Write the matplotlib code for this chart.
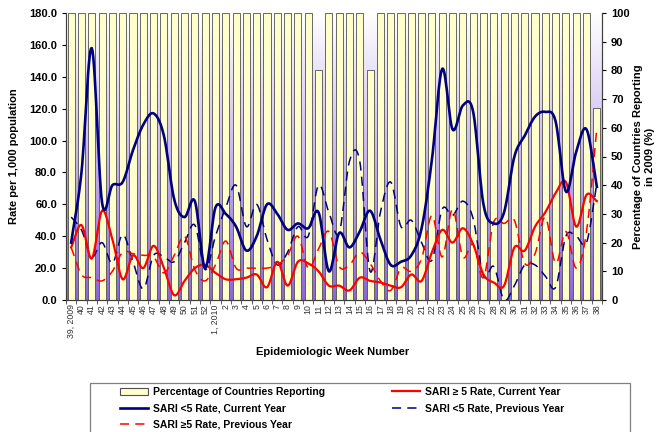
import numpy as np
import matplotlib
matplotlib.use("Agg")
import matplotlib.pyplot as plt
from matplotlib.patches import Rectangle
from matplotlib.lines import Line2D
from matplotlib.colors import LinearSegmentedColormap

plt.rcParams['font.family'] = ['Liberation Sans', 'DejaVu Sans']

# Data

weeks = ["39, 2009", "40", "41", "42", "43", "44", "45", "46", "47", "48", "49", "50", "51", "52",
         "1, 2010", "2", "3", "4", "5", "6", "7", "8", "9", "10", "11", "12", "13", "14", "15",
         "16", "17", "18", "19", "20", "21", "22", "23", "24", "25", "26", "27", "28", "29",
         "30", "31", "32", "33", "34", "35", "36", "37", "38"]

pct_reporting = [100, 100, 100, 100, 100, 100, 100, 100, 100, 100, 100, 100, 100, 100,
                 100, 100, 100, 100, 100, 100, 100, 100, 100, 100, 80, 100, 100, 100, 100,
                 80, 100, 100, 100, 100, 100, 100, 100, 100, 100, 100, 100, 100, 100,
                 100, 100, 100, 100, 100, 100, 100, 100, 67]

sari_u5_cur = [36, 80, 158, 61, 72, 74, 94, 110, 117, 103, 63, 52, 62, 20,
               58, 54, 46, 31, 40, 60, 54, 44, 48, 45, 55, 18, 42, 33, 43,
               56, 38, 22, 24, 28, 45, 88, 145, 107, 122, 118, 60, 48, 55,
               90, 103, 115, 118, 112, 68, 93, 107, 71]

sari_o5_cur = [33, 47, 26, 56, 38, 13, 28, 20, 34, 20, 3, 12, 20, 22,
               17, 13, 13, 14, 16, 8, 24, 9, 24, 23, 18, 9, 9, 6, 14,
               12, 11, 9, 8, 16, 12, 30, 44, 36, 45, 35, 16, 11, 9,
               33, 31, 46, 55, 67, 74, 46, 66, 62]

sari_u5_prev = [52, 44, 27, 36, 23, 41, 24, 7, 28, 27, 24, 36, 47, 19,
                40, 58, 72, 46, 60, 38, 22, 30, 46, 40, 72, 55, 42, 87, 87,
                18, 55, 74, 46, 50, 36, 25, 57, 53, 62, 51, 15, 21, 0,
                9, 22, 22, 15, 8, 40, 40, 36, 73]

sari_o5_prev = [33, 16, 14, 12, 18, 30, 29, 28, 27, 17, 28, 40, 19, 12,
                22, 37, 20, 20, 20, 20, 22, 28, 40, 20, 32, 43, 21, 22, 30,
                23, 12, 6, 20, 18, 26, 53, 27, 57, 27, 35, 14, 49, 48,
                50, 23, 29, 52, 23, 43, 20, 43, 108]


def smooth(xs, ys, n=14):
    # Catmull-Rom curve through the points (like Excel's smoothed lines)
    x = np.asarray(xs, float)
    y = np.asarray(ys, float)
    out = []
    for v in (x, y):
        p = np.concatenate([[2*v[0]-v[1]], v, [2*v[-1]-v[-2]]])
        t = np.linspace(0, 1, n, endpoint=False)[:, None]
        p0, p1, p2, p3 = p[:-3], p[1:-2], p[2:-1], p[3:]
        seg = 0.5*(2*p1 + (-p0+p2)*t + (2*p0-5*p1+4*p2-p3)*t**2 + (-p0+3*p1-3*p2+p3)*t**3)
        out.append(np.append(seg.T.ravel(), v[-1]))
    return out


fig = plt.figure(figsize=(6.7, 4.32), dpi=100)
ax = fig.add_axes([66/670, 1-300/432, 536/670, 287/432])
ax2 = ax.twinx()

pos = np.arange(len(weeks))

# background gradient (white at top, purple at bottom) + bars on the secondary axis
cmap = LinearSegmentedColormap.from_list("bg", ["#FFFFFF", "#C9B6F0", "#8C66D8"])
grad = np.linspace(0, 1, 256)[:, None]
ax2.imshow(grad, extent=[0, 1, 0, 1], transform=ax2.transAxes, aspect='auto',
           cmap=cmap, zorder=0)
ax2.bar(pos, pct_reporting, width=0.68, color='#FFFFCC', edgecolor='#505050',
        linewidth=0.6, zorder=2)
ax2.set_ylim(0, 100)
ax2.set_xlim(-0.5, len(weeks)-0.5)
ax2.set_yticks(np.arange(0, 101, 10))

# lines on the primary axis, drawn above the bars
ax.set_zorder(ax2.get_zorder()+1)
ax.patch.set_visible(False)

dash = (0, (6, 4))
xs, ys = smooth(pos, sari_u5_prev)
ax.plot(xs, ys, color='#000080', lw=1.1, linestyle=dash)
xs, ys = smooth(pos, sari_o5_prev)
ax.plot(xs, ys, color='#FF0000', lw=1.1, linestyle=dash)
xs, ys = smooth(pos, sari_o5_cur)
ax.plot(xs, ys, color='#FF0000', lw=1.6)
xs, ys = smooth(pos, sari_u5_cur)
ax.plot(xs, ys, color='#000080', lw=1.9)

ax.set_ylim(0, 180)
ax.set_xlim(-0.5, len(weeks)-0.5)
ax.set_yticks(np.arange(0, 181, 20))
ax.set_yticklabels(["%.1f" % v for v in np.arange(0, 181, 20)])

ax.set_xticks(pos)
ax.set_xticklabels(weeks, rotation=90, fontsize=6.3, color='#333333')
ax.set_xticks(np.arange(-0.5, len(weeks)), minor=True)
ax.tick_params(axis='x', which='major', length=0, pad=3)
ax.tick_params(axis='x', which='minor', length=3, color='#404040')
ax.tick_params(axis='y', length=3, labelsize=8)
ax2.tick_params(axis='y', length=3, labelsize=8)
for lab in ax.get_yticklabels() + ax2.get_yticklabels():
    lab.set_fontweight('bold')

for a in (ax, ax2):
    a.spines['top'].set_visible(False)
    for s in ('left', 'right', 'bottom'):
        a.spines[s].set_color('#404040')
        a.spines[s].set_linewidth(0.8)

ax.set_ylabel("Rate per 1,000 population", fontsize=8, fontweight='bold')
ax.yaxis.set_label_coords(-0.088, 0.5)
ax2.set_ylabel("Percentage of Countries Reporting\nin 2009 (%)", fontsize=8,
               fontweight='bold', linespacing=1.2)
ax2.yaxis.set_label_coords(1.058, 0.5)

fig.text(333/670, 1-352/432, "Epidemiologic Week Number", ha='center', va='center',
         fontsize=8, fontweight='bold')

# legend
fig.patches.append(Rectangle((90/670, -0.05), 540/670, (432-383)/432 + 0.05,
                             transform=fig.transFigure, facecolor='white',
                             edgecolor='#808080', linewidth=0.9, zorder=0))

h_bar = Rectangle((0, 0), 1, 1, facecolor='#FFFFCC', edgecolor='#505050', linewidth=0.8)
h_u5c = Line2D([], [], color='#000080', lw=1.9)
h_o5c = Line2D([], [], color='#FF0000', lw=1.6)
h_u5p = Line2D([], [], color='#000080', lw=1.1, linestyle=dash)
h_o5p = Line2D([], [], color='#FF0000', lw=1.1, linestyle=dash)

leg_kw = dict(loc='upper left', frameon=False, borderpad=0, borderaxespad=0,
              handlelength=2.7, handletextpad=0.5, labelspacing=0.62,
              prop={'size': 7.5, 'weight': 'bold'})
leg1 = fig.legend([h_bar, h_u5c, h_o5p],
                  ["Percentage of Countries Reporting", "SARI <5 Rate, Current Year",
                   "SARI \u22655 Rate, Previous Year"],
                  bbox_to_anchor=(120/670, 1-387/432), **leg_kw)
leg2 = fig.legend([h_o5c, h_u5p],
                  ["SARI \u2265 5 Rate, Current Year", "SARI <5 Rate, Previous Year"],
                  bbox_to_anchor=(392/670, 1-387/432), **leg_kw)

fig.savefig("out.png", dpi=100)
